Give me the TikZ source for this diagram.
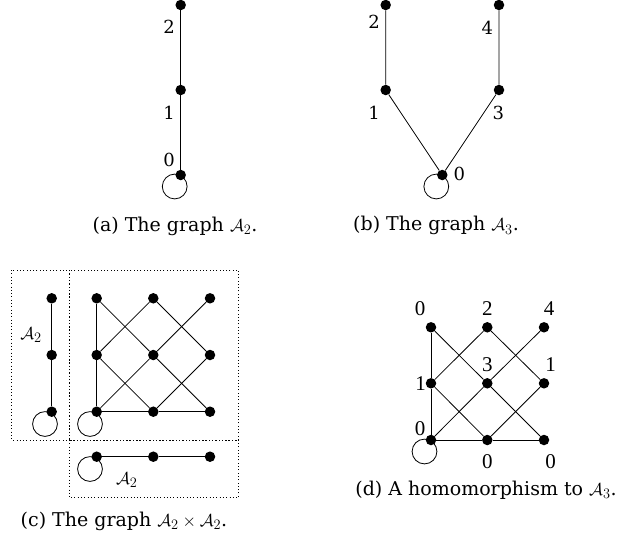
\documentclass[tikz,border=0pt]{standalone}
\usepackage{fontspec}
\setmainfont{DejaVu Serif}
\newfontfamily\timesf{Liberation Serif}
\begin{document}
\begin{tikzpicture}[x=1pt,y=-1pt,
  vtx/.style={circle,fill=black,inner sep=0pt,minimum size=10.5pt},
  edge/.style={line width=0.8pt},
  loopc/.style={line width=0.8pt},
  lbl/.style={inner sep=0pt,font=\fontsize{18}{20}\selectfont},
  tlbl/.style={inner sep=0pt,font=\fontsize{21}{22}\selectfont\timesf},
  captxt/.style={inner sep=0pt,anchor=base,font=\fontsize{19}{22}\selectfont},
  frame/.style={line width=0.8pt,dash pattern=on 0.9pt off 2.4pt}]
\useasboundingbox (0,0) rectangle (627,542);

% ---------- (a) ----------
\node[vtx] (a2) at (180.7,5) {};
\node[vtx] (a1) at (180.7,90) {};
\node[vtx] (a0) at (180.7,175) {};
\draw[edge] (a0) -- (a1) -- (a2);
\draw[loopc] (a0.center) ++(-6,11.5) circle[radius=12.4];
\node[lbl] (la2) at (169,26.7) {2};
\node[lbl] (la1) at (169,112.7) {1};
\node[lbl] (la0) at (169,160) {0};
\node[captxt] (capa) at (175,231) {(a) The graph $\mathcal{A}_2$.};

% ---------- (b) ----------
\node[vtx] (b2) at (385.7,5) {};
\node[vtx] (b4) at (499,5) {};
\node[vtx] (b1) at (385.7,90) {};
\node[vtx] (b3) at (499,90) {};
\node[vtx] (b0) at (442.3,175) {};
\draw[edge] (b2) -- (b1) -- (b0) -- (b3) -- (b4);
\draw[loopc] (b0.center) ++(-6,11.5) circle[radius=12.4];
\node[lbl] (lb2) at (374,21.7) {2};
\node[lbl] (lb4) at (487.3,27.7) {4};
\node[lbl] (lb1) at (374,112.7) {1};
\node[lbl] (lb3) at (498.3,112.7) {3};
\node[lbl] (lb0) at (459.3,174) {0};
\node[captxt] (capb) at (436,230.7) {(b) The graph $\mathcal{A}_3$.};

% ---------- (c) ----------
\draw[frame] (11.7,270) rectangle (69,440);
\draw[frame] (69,270) rectangle (238.7,440);
\draw[frame] (69,440) rectangle (238.7,497.3);

% left copy of A2
\node[vtx] (l2) at (51.7,298.3) {};
\node[vtx] (l1) at (51.7,355) {};
\node[vtx] (l0) at (51.7,411.7) {};
\draw[edge] (l0) -- (l1) -- (l2);
\draw[loopc] (l0.center) ++(-6.7,12.3) circle[radius=12.4];
\node[inner sep=0pt,font=\fontsize{19}{22}\selectfont] (lA) at (31,335) {$\mathcal{A}_2$};

% grid
\foreach \i/\x in {0/96.7,1/153.3,2/210}
  \foreach \j/\y in {0/411.7,1/355,2/298.3}
    \node[vtx] (g\i\j) at (\x,\y) {};
\draw[edge] (g00) -- (g01) -- (g02);
\draw[edge] (g00) -- (g10) -- (g20);
\draw[edge] (g02) -- (g11) -- (g20);
\draw[edge] (g00) -- (g11) -- (g22);
\draw[edge] (g01) -- (g10);
\draw[edge] (g01) -- (g12);
\draw[edge] (g12) -- (g21);
\draw[edge] (g10) -- (g21);
\draw[loopc] (g00.center) ++(-6.7,12.3) circle[radius=12.4];

% bottom copy of A2
\node[vtx] (h0) at (96.7,456.7) {};
\node[vtx] (h1) at (153.3,456.7) {};
\node[vtx] (h2) at (210,456.7) {};
\draw[edge] (h0) -- (h1) -- (h2);
\draw[loopc] (h0.center) ++(-6.7,12.3) circle[radius=12.4];
\node[inner sep=0pt,font=\fontsize{19}{22}\selectfont] (hA) at (126.7,480) {$\mathcal{A}_2$};

\node[captxt] (capc) at (124,526) {(c) The graph $\mathcal{A}_2\times\mathcal{A}_2$.};

% ---------- (d) ----------
\foreach \i/\x in {0/431,1/487.3,2/544}
  \foreach \j/\y in {0/440,1/383.3,2/327.3}
    \node[vtx] (d\i\j) at (\x,\y) {};
\draw[edge] (d00) -- (d01) -- (d02);
\draw[edge] (d00) -- (d10) -- (d20);
\draw[edge] (d02) -- (d11) -- (d20);
\draw[edge] (d00) -- (d11) -- (d22);
\draw[edge] (d01) -- (d10);
\draw[edge] (d01) -- (d12);
\draw[edge] (d12) -- (d21);
\draw[edge] (d10) -- (d21);
\draw[loopc] (d00.center) ++(-6.5,11.5) circle[radius=12.4];
\node[tlbl] (ld02) at (420,308.3) {0};
\node[tlbl] (ld12) at (487.3,308.3) {2};
\node[tlbl] (ld22) at (549,308.3) {4};
\node[tlbl] (ld11) at (487.3,364.3) {3};
\node[tlbl] (ld21) at (550.7,364.3) {1};
\node[tlbl] (ld01) at (420.7,383.3) {1};
\node[tlbl] (ld00) at (420,428.3) {0};
\node[tlbl] (ld10) at (487.3,461.7) {0};
\node[tlbl] (ld20) at (550.7,461.7) {0};
\node[captxt] (capd) at (486,495) {(d) A homomorphism to $\mathcal{A}_3$.};
\end{tikzpicture}
\end{document}
